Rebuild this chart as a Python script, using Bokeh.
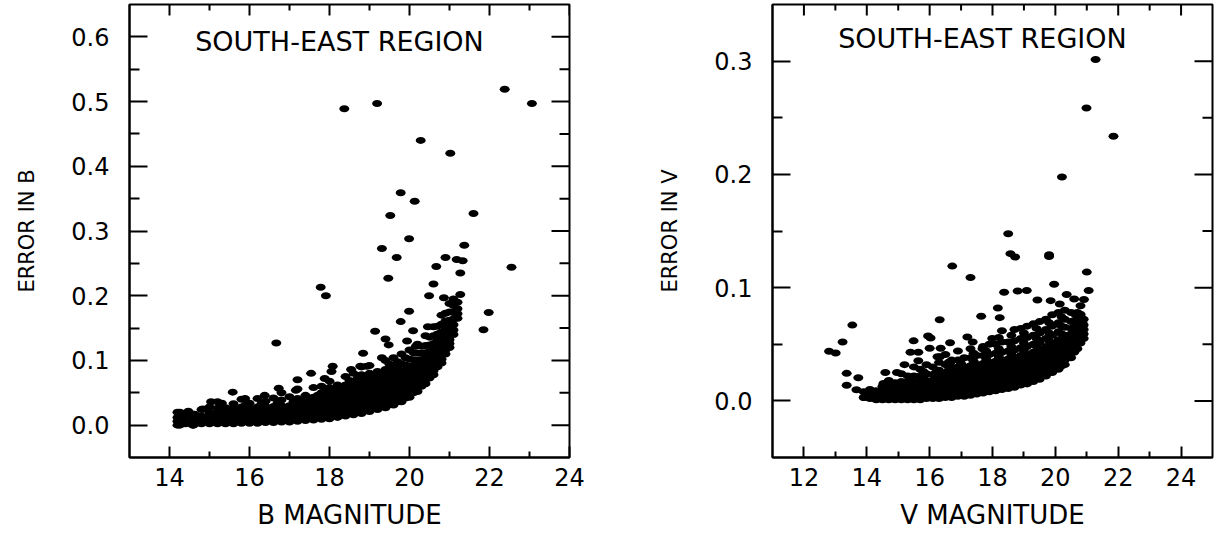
import math
from bokeh.plotting import figure
from bokeh.models import FixedTicker, Label, Range1d, NumeralTickFormatter
from bokeh.layouts import row
from bokeh.embed import file_html
from bokeh.resources import INLINE

# ---------------- data: B panel ----------------
# dense cloud, read column by column (B magnitude -> errors in that column)
b_core_mag = [14.2, 14.4, 14.6, 14.8, 15.0, 15.2, 15.4, 15.6, 15.8, 16.0,
              16.2, 16.4, 16.6, 16.8, 17.0, 17.2, 17.4, 17.6, 17.8, 18.0,
              18.2, 18.4, 18.6, 18.8, 19.0, 19.2, 19.4, 19.6, 19.8, 20.0,
              20.2, 20.4, 20.6, 20.8, 21.0, 21.1, 21.2,
              15.1, 15.3, 15.5, 15.7, 15.9, 16.1, 16.3, 16.5, 16.7,
              16.9, 17.1, 17.3, 17.5, 17.7, 17.9, 18.1, 18.3, 18.5, 18.7,
              18.9, 19.1, 19.3, 19.5, 19.7, 19.9, 20.1, 20.3, 20.5, 20.7, 20.9]
b_core_err = [
    [0.0, 0.006, 0.012, 0.02],
    [0.002, 0.008, 0.016],
    [0.0, 0.006, 0.012, 0.017],
    [0.002, 0.008, 0.014, 0.024],
    [0.002, 0.008, 0.014, 0.02, 0.028],
    [0.002, 0.008, 0.014, 0.02, 0.026, 0.036],
    [0.002, 0.008, 0.014, 0.02, 0.027],
    [0.002, 0.008, 0.014, 0.02, 0.026, 0.033],
    [0.003, 0.009, 0.015, 0.021, 0.028, 0.04],
    [0.003, 0.009, 0.015, 0.021, 0.027, 0.034],
    [0.003, 0.009, 0.015, 0.021, 0.028, 0.041],
    [0.004, 0.01, 0.016, 0.022, 0.029, 0.037],
    [0.004, 0.01, 0.016, 0.022, 0.029, 0.042],
    [0.005, 0.011, 0.017, 0.023, 0.03, 0.039, 0.05],
    [0.005, 0.011, 0.017, 0.023, 0.03, 0.044],
    [0.006, 0.012, 0.018, 0.024, 0.031, 0.041, 0.056],
    [0.007, 0.013, 0.019, 0.025, 0.032, 0.046],
    [0.008, 0.014, 0.02, 0.026, 0.033, 0.043, 0.058],
    [0.009, 0.015, 0.021, 0.027, 0.034, 0.041, 0.05, 0.06],
    [0.01, 0.016, 0.022, 0.028, 0.034, 0.041, 0.049, 0.058, 0.068],
    [0.012, 0.018, 0.024, 0.03, 0.036, 0.043, 0.051, 0.062],
    [0.014, 0.02, 0.026, 0.032, 0.038, 0.045, 0.053, 0.062, 0.075],
    [0.016, 0.022, 0.028, 0.034, 0.04, 0.047, 0.055, 0.064, 0.08],
    [0.018, 0.024, 0.03, 0.036, 0.042, 0.049, 0.057, 0.067, 0.078, 0.09],
    [0.021, 0.027, 0.033, 0.039, 0.045, 0.052, 0.06, 0.069, 0.08, 0.092],
    [0.024, 0.03, 0.036, 0.042, 0.048, 0.055, 0.063, 0.072, 0.083],
    [0.027, 0.033, 0.039, 0.045, 0.051, 0.058, 0.066, 0.075, 0.086, 0.1],
    [0.031, 0.037, 0.043, 0.049, 0.055, 0.062, 0.07, 0.079, 0.09, 0.104],
    [0.036, 0.042, 0.048, 0.054, 0.06, 0.067, 0.075, 0.084, 0.095, 0.11],
    [0.043, 0.049, 0.055, 0.061, 0.067, 0.074, 0.082, 0.091, 0.102, 0.116],
    [0.052, 0.058, 0.064, 0.07, 0.076, 0.083, 0.091, 0.1, 0.111, 0.125],
    [0.064, 0.07, 0.076, 0.082, 0.088, 0.095, 0.103, 0.112, 0.123, 0.138],
    [0.078, 0.084, 0.09, 0.096, 0.102, 0.109, 0.117, 0.126, 0.138, 0.152],
    [0.096, 0.102, 0.108, 0.114, 0.12, 0.127, 0.135, 0.144, 0.156, 0.17],
    [0.12, 0.126, 0.132, 0.138, 0.145, 0.153, 0.162, 0.175, 0.188],
    [0.14, 0.147, 0.155, 0.164, 0.174, 0.185, 0.195],
    [0.165, 0.172, 0.18, 0.19],
    [0.005, 0.011, 0.017],
    [0.005, 0.011, 0.017, 0.023],
    [0.005, 0.011, 0.017, 0.023],
    [0.006, 0.012, 0.018, 0.024],
    [0.006, 0.012, 0.018, 0.024, 0.031],
    [0.006, 0.012, 0.018, 0.024],
    [0.007, 0.013, 0.019, 0.025, 0.033],
    [0.007, 0.013, 0.019, 0.025],
    [0.008, 0.014, 0.02, 0.026, 0.034],
    [0.008, 0.014, 0.02, 0.027],
    [0.009, 0.015, 0.021, 0.028, 0.036],
    [0.01, 0.016, 0.022, 0.029, 0.038],
    [0.011, 0.017, 0.023, 0.03, 0.039],
    [0.012, 0.018, 0.024, 0.031, 0.038, 0.046],
    [0.013, 0.019, 0.025, 0.031, 0.038, 0.045, 0.054],
    [0.014, 0.02, 0.026, 0.032, 0.039, 0.047, 0.055],
    [0.016, 0.022, 0.028, 0.034, 0.041, 0.049, 0.057],
    [0.018, 0.024, 0.03, 0.036, 0.043, 0.051, 0.059, 0.069],
    [0.02, 0.026, 0.032, 0.038, 0.045, 0.053, 0.061, 0.072],
    [0.023, 0.029, 0.035, 0.041, 0.048, 0.056, 0.064, 0.074],
    [0.026, 0.032, 0.038, 0.044, 0.051, 0.059, 0.067, 0.077],
    [0.029, 0.035, 0.041, 0.047, 0.054, 0.062, 0.07, 0.08],
    [0.032, 0.038, 0.044, 0.05, 0.057, 0.065, 0.073, 0.083, 0.094],
    [0.036, 0.042, 0.048, 0.054, 0.061, 0.069, 0.077, 0.087, 0.098],
    [0.042, 0.048, 0.054, 0.06, 0.067, 0.075, 0.083, 0.093, 0.104],
    [0.05, 0.056, 0.062, 0.068, 0.075, 0.083, 0.091, 0.101, 0.112],
    [0.06, 0.066, 0.072, 0.078, 0.085, 0.093, 0.101, 0.111, 0.122],
    [0.073, 0.079, 0.085, 0.091, 0.098, 0.106, 0.114, 0.124, 0.136],
    [0.09, 0.096, 0.102, 0.108, 0.115, 0.123, 0.131, 0.141, 0.153],
    [0.11, 0.116, 0.122, 0.128, 0.135, 0.143, 0.151, 0.161, 0.173],
]
# scattered stars and outliers
b_out_mag = [22.38, 23.06, 18.37, 19.19, 20.28, 21.02, 19.78, 20.13, 19.52, 21.6,
             19.99, 19.31, 21.37, 19.68, 20.9, 21.18, 21.33, 20.67, 22.55, 21.27,
             19.47, 20.6, 17.78, 17.91, 20.49, 20.86, 21.27, 21.98, 21.85, 19.99,
             19.78, 19.14, 20.09, 20.46, 19.4, 19.94, 19.48, 20.16, 16.67, 18.84,
             19.31, 18.08, 18.05, 17.54, 17.2, 17.16, 16.73, 15.58, 15.89, 15.04,
             15.31, 14.83, 14.26, 14.47, 14.26, 14.26, 14.63, 14.58, 14.68, 18.54,
             18.77, 18.93, 17.88, 16.38]
b_out_err = [0.519, 0.497, 0.489, 0.497, 0.44, 0.42, 0.359, 0.346, 0.324, 0.327,
             0.288, 0.273, 0.278, 0.259, 0.259, 0.256, 0.254, 0.245, 0.244, 0.235,
             0.227, 0.218, 0.213, 0.2, 0.2, 0.197, 0.202, 0.174, 0.1475, 0.176,
             0.16, 0.145, 0.146, 0.152, 0.133, 0.13, 0.124, 0.122, 0.127, 0.111,
             0.104, 0.091, 0.083, 0.08, 0.07, 0.054, 0.057, 0.051, 0.041, 0.036,
             0.034, 0.025, 0.02, 0.0215, 0.012, 0.0, 0.017, 0.0, 0.005, 0.086,
             0.091, 0.091, 0.072, 0.046]

# ---------------- data: V panel ----------------
v_core_mag = [13.9, 14.1, 14.3, 14.5, 14.7, 14.9, 15.1, 15.3, 15.5, 15.7,
              15.9, 16.1, 16.3, 16.5, 16.7, 16.9, 17.1, 17.3, 17.5, 17.7,
              17.9, 18.1, 18.3, 18.5, 18.7, 18.9, 19.1, 19.3, 19.5, 19.7,
              19.9, 20.1, 20.3, 20.5, 20.7, 20.9,
              15.0, 15.4, 15.8, 16.2, 16.6, 17.0, 17.4, 17.8, 18.2, 18.6,
              19.0, 19.4, 19.8, 20.2, 20.6, 20.8]
v_core_err = [
    [0.003, 0.008],
    [0.002, 0.006, 0.01],
    [0.001, 0.005, 0.009],
    [0.001, 0.005, 0.009, 0.013],
    [0.001, 0.005, 0.009, 0.013, 0.018],
    [0.001, 0.005, 0.009, 0.013, 0.016],
    [0.001, 0.005, 0.009, 0.013, 0.017, 0.024],
    [0.001, 0.005, 0.009, 0.013, 0.017, 0.022],
    [0.001, 0.005, 0.009, 0.013, 0.017, 0.022, 0.03],
    [0.001, 0.005, 0.009, 0.013, 0.017, 0.022, 0.028],
    [0.002, 0.006, 0.01, 0.014, 0.018, 0.024, 0.032],
    [0.002, 0.006, 0.01, 0.014, 0.018, 0.023, 0.03],
    [0.002, 0.006, 0.01, 0.014, 0.018, 0.022, 0.027, 0.034],
    [0.003, 0.007, 0.011, 0.015, 0.019, 0.024, 0.032, 0.041],
    [0.003, 0.007, 0.011, 0.015, 0.019, 0.024, 0.029, 0.036],
    [0.004, 0.008, 0.012, 0.016, 0.02, 0.025, 0.03, 0.036, 0.044],
    [0.004, 0.008, 0.012, 0.016, 0.02, 0.025, 0.03, 0.038],
    [0.005, 0.009, 0.013, 0.017, 0.021, 0.026, 0.031, 0.038, 0.046],
    [0.006, 0.01, 0.014, 0.018, 0.022, 0.027, 0.032, 0.04],
    [0.007, 0.011, 0.015, 0.019, 0.023, 0.028, 0.033, 0.04, 0.048],
    [0.008, 0.012, 0.016, 0.02, 0.024, 0.029, 0.034, 0.041, 0.05],
    [0.009, 0.013, 0.017, 0.021, 0.025, 0.03, 0.035, 0.042, 0.05],
    [0.01, 0.014, 0.018, 0.022, 0.026, 0.031, 0.036, 0.043, 0.052, 0.062],
    [0.011, 0.015, 0.019, 0.023, 0.027, 0.032, 0.037, 0.044, 0.052],
    [0.012, 0.016, 0.02, 0.024, 0.028, 0.033, 0.038, 0.045, 0.053, 0.063],
    [0.014, 0.018, 0.022, 0.026, 0.03, 0.035, 0.04, 0.047, 0.055, 0.064],
    [0.015, 0.019, 0.023, 0.027, 0.031, 0.036, 0.041, 0.048, 0.056, 0.066],
    [0.017, 0.021, 0.025, 0.029, 0.033, 0.038, 0.043, 0.05, 0.058, 0.068],
    [0.019, 0.023, 0.027, 0.031, 0.035, 0.04, 0.045, 0.052, 0.06, 0.07],
    [0.022, 0.026, 0.03, 0.034, 0.038, 0.043, 0.048, 0.055, 0.063, 0.072],
    [0.025, 0.029, 0.033, 0.037, 0.041, 0.046, 0.051, 0.058, 0.066, 0.076],
    [0.028, 0.032, 0.036, 0.04, 0.044, 0.049, 0.054, 0.061, 0.069, 0.078],
    [0.032, 0.036, 0.04, 0.044, 0.048, 0.053, 0.058, 0.065, 0.072, 0.08],
    [0.038, 0.042, 0.046, 0.05, 0.054, 0.059, 0.064, 0.07, 0.078],
    [0.046, 0.05, 0.054, 0.058, 0.062, 0.067, 0.072, 0.078],
    [0.055, 0.059, 0.063, 0.067, 0.072],
    [0.003, 0.007, 0.011, 0.015],
    [0.003, 0.007, 0.011, 0.015, 0.02],
    [0.003, 0.008, 0.012, 0.016, 0.02, 0.026],
    [0.004, 0.008, 0.012, 0.016, 0.02, 0.025],
    [0.005, 0.009, 0.013, 0.017, 0.021, 0.027, 0.034],
    [0.006, 0.01, 0.014, 0.018, 0.022, 0.028, 0.033],
    [0.007, 0.011, 0.015, 0.019, 0.024, 0.029, 0.035, 0.042],
    [0.009, 0.013, 0.017, 0.021, 0.026, 0.031, 0.037, 0.044],
    [0.011, 0.015, 0.019, 0.023, 0.028, 0.033, 0.039, 0.046, 0.056],
    [0.013, 0.017, 0.021, 0.025, 0.03, 0.035, 0.041, 0.048, 0.058],
    [0.016, 0.02, 0.024, 0.028, 0.033, 0.038, 0.044, 0.051, 0.06],
    [0.02, 0.024, 0.028, 0.032, 0.037, 0.042, 0.048, 0.055, 0.064],
    [0.025, 0.029, 0.033, 0.037, 0.042, 0.047, 0.053, 0.06, 0.069],
    [0.031, 0.035, 0.039, 0.043, 0.048, 0.053, 0.059, 0.066, 0.074],
    [0.043, 0.047, 0.051, 0.055, 0.06, 0.065, 0.071, 0.077],
    [0.051, 0.055, 0.059, 0.064, 0.069, 0.075],
]
v_out_mag = [21.28, 20.99, 21.85, 20.21, 18.5, 18.57, 18.72, 19.8, 19.8, 16.72,
             17.3, 21.0, 19.96, 21.06, 18.37, 18.8, 19.09, 20.36, 19.43, 19.85,
             20.6, 20.91, 20.8, 20.14, 18.17, 18.23, 20.8, 20.86, 17.64, 16.32,
             13.54, 13.23, 12.8, 13.01, 15.49, 15.95, 16.03, 16.0, 16.35, 16.65,
             17.2, 17.37, 17.99, 17.68, 15.39, 15.64, 16.33, 15.2, 14.59, 14.96,
             14.53, 13.73, 13.36, 13.36, 13.67, 13.91, 15.64, 16.25, 16.65, 16.62]
v_out_err = [0.3015, 0.2586, 0.2337, 0.1977, 0.1476, 0.13, 0.127, 0.129, 0.1275, 0.119,
             0.109, 0.1137, 0.103, 0.0975, 0.096, 0.097, 0.0975, 0.094, 0.089, 0.0885,
             0.09, 0.0895, 0.084, 0.0855, 0.082, 0.0735, 0.0765, 0.069, 0.0747, 0.0717,
             0.0669, 0.0519, 0.0438, 0.0423, 0.053, 0.0573, 0.0555, 0.0465, 0.0465, 0.0513,
             0.0564, 0.052, 0.055, 0.046, 0.043, 0.043, 0.039, 0.032, 0.025, 0.025,
             0.0153, 0.0204, 0.0243, 0.0138, 0.0099, 0.003, 0.0354, 0.039, 0.0333, 0.0264]

# ---------------- axes / ticks ----------------
b_xrange = (13, 24)
b_yrange = (-0.05, 0.65)
b_xticks = [14, 16, 18, 20, 22, 24]
b_xminor = [15, 17, 19, 21, 23]
b_yticks = [0.0, 0.1, 0.2, 0.3, 0.4, 0.5, 0.6]
b_yminor = [0.05, 0.15, 0.25, 0.35, 0.45, 0.55]

v_xrange = (11, 25)
v_yrange = (-0.05, 0.35)
v_xticks = [12, 14, 16, 18, 20, 22, 24]
v_xminor = [13, 15, 17, 19, 21, 23]
v_yticks = [0.0, 0.1, 0.2, 0.3]
v_yminor = [0.05, 0.15, 0.25]

region_text = "SOUTH-EAST REGION"
FONT = "DejaVu Sans"


def flatten(core_mag, core_err, out_mag, out_err):
    xs, ys = [], []
    for m, errs in zip(core_mag, core_err):
        for e in errs:
            xs.append(m)
            ys.append(e)
    return xs + list(out_mag), ys + list(out_err)


def style_axis(ax, ticks, minor, is_y):
    ax.ticker = FixedTicker(ticks=ticks, minor_ticks=minor)
    ax.major_tick_out = 0
    ax.minor_tick_out = 0
    ax.major_tick_in = 18 if is_y else 11
    ax.minor_tick_in = 10 if is_y else 6
    ax.major_tick_line_width = 2
    ax.minor_tick_line_width = 2
    ax.major_tick_line_color = "black"
    ax.minor_tick_line_color = "black"
    ax.axis_line_width = 2
    ax.axis_line_color = "black"
    ax.major_label_text_font = FONT
    ax.major_label_text_font_size = "24px"
    ax.major_label_text_color = "black"
    ax.major_label_standoff = 20 if is_y else 10
    if is_y:
        ax.formatter = NumeralTickFormatter(format="0.0")
    ax.axis_label_text_font = FONT
    ax.axis_label_text_font_style = "normal"
    ax.axis_label_text_color = "black"


def mirror_ticks(p, xr, yr, xt, xm, yt, ym):
    # inward ticks on the top and right edges of the box
    p.ray(x=xt, y=[yr[1]] * len(xt), length=11, length_units="screen",
          angle=-math.pi / 2, line_color="black", line_width=2)
    p.ray(x=xm, y=[yr[1]] * len(xm), length=6, length_units="screen",
          angle=-math.pi / 2, line_color="black", line_width=2)
    p.ray(x=[xr[1]] * len(yt), y=yt, length=18, length_units="screen",
          angle=math.pi, line_color="black", line_width=2)
    p.ray(x=[xr[1]] * len(ym), y=ym, length=10, length_units="screen",
          angle=math.pi, line_color="black", line_width=2)


def make_panel(mag, err, xr, yr, xt, xm, yt, ym, xlabel, ylabel, lx, ly,
               top, bottom, right):
    p = figure(frame_width=440, frame_height=453,
               x_range=Range1d(*xr), y_range=Range1d(*yr),
               output_backend="svg", toolbar_location=None,
               min_border_left=129, min_border_right=right,
               min_border_top=top, min_border_bottom=bottom)
    p.xgrid.visible = False
    p.ygrid.visible = False
    p.outline_line_color = "black"
    p.outline_line_width = 2
    p.outline_line_alpha = 1.0
    p.background_fill_color = "white"
    p.border_fill_color = "white"

    style_axis(p.xaxis[0], xt, xm, False)
    style_axis(p.yaxis[0], yt, ym, True)
    p.xaxis[0].axis_label = xlabel
    p.xaxis[0].axis_label_text_font_size = "26px"
    p.xaxis[0].axis_label_standoff = 11
    p.yaxis[0].axis_label = ylabel
    p.yaxis[0].axis_label_text_font_size = "21px"
    p.yaxis[0].axis_label_standoff = 29

    mirror_ticks(p, xr, yr, xt, xm, yt, ym)

    p.ellipse(x=mag, y=err, width=10, height=7,
              width_units="screen", height_units="screen",
              fill_color="black", line_color=None)

    p.add_layout(Label(x=lx, y=ly, text=region_text, text_align="center",
                       text_baseline="middle", text_font=FONT,
                       text_font_size="27px", text_color="black"))
    return p


b_x, b_y = flatten(b_core_mag, b_core_err, b_out_mag, b_out_err)
v_x, v_y = flatten(v_core_mag, v_core_err, v_out_mag, v_out_err)

p1 = make_panel(b_x, b_y, b_xrange, b_yrange, b_xticks, b_xminor,
                b_yticks, b_yminor, "B MAGNITUDE", "ERROR IN B",
                18.25, 0.593, 4, 76, 74)
p2 = make_panel(v_x, v_y, v_xrange, v_yrange, v_xticks, v_xminor,
                v_yticks, v_yminor, "V MAGNITUDE", "ERROR IN V",
                17.68, 0.3196, 3, 77, 4)

layout = row(p1, p2)
open("out.html", "w").write(file_html(layout, INLINE))
